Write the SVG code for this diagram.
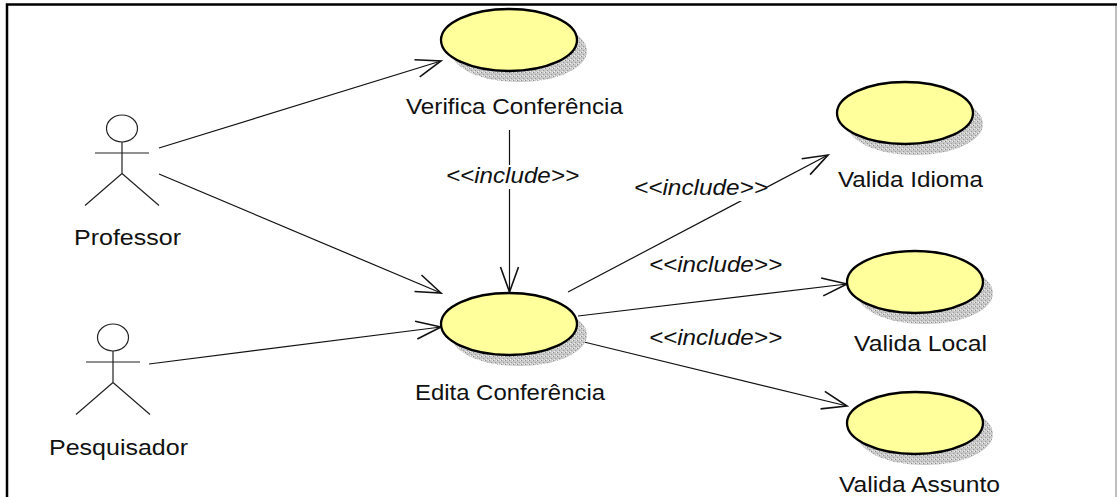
<svg xmlns="http://www.w3.org/2000/svg" width="1117" height="497" viewBox="0 0 1117 497">
<style>
text{font-family:"Liberation Sans",Arial,sans-serif;font-size:22px;fill:#111;text-anchor:middle}
.i{font-style:italic}
.u{fill:#ffff9c;stroke:#000;stroke-width:2.300}
.s{fill:url(#st)}
.a{fill:none;stroke:#111;stroke-width:1.200}
.c{fill:none;stroke:#222;stroke-width:1.200}
</style>
<defs>
<pattern id="st" width="4" height="4" patternUnits="userSpaceOnUse">
<rect width="4" height="4" fill="#c8c8c8"/>
<rect x="0" y="0" width="1" height="1" fill="#8c8c8c"/>
<rect x="2" y="2" width="1" height="1" fill="#9a9a9a"/>
<rect x="3" y="0" width="1" height="1" fill="#eee"/>
<rect x="1" y="3" width="1" height="1" fill="#eee"/>
</pattern>
<marker id="ar" markerWidth="32" markerHeight="28" refX="30" refY="14" orient="auto" markerUnits="userSpaceOnUse">
<path d="M5 5L30 14L5 23" fill="none" stroke="#111" stroke-width="1.600"/>
</marker>
<g id="uc"><ellipse class="s" cx="10" cy="11" rx="68" ry="31"/><ellipse class="u" rx="68" ry="31"/></g>
<g id="ac"><ellipse cy="-28.500" rx="15.500" ry="13.500" class="c"/><path class="c" d="M0 -15V16.500M-27 -4H27M0 16.500L-37 48.500M0 16.500L37 48.500"/></g>
</defs>
<rect id="frame" x="7" y="4.500" width="1130" height="520" fill="none" stroke="#000" stroke-width="2.500"/>
<path d="M1116 6V497" stroke="#aaa" stroke-width="1.500"/>
<g id="connectors">
<path class="a" d="M159 148L441 61" marker-end="url(#ar)"/>
<path class="a" d="M159 174L441 293" marker-end="url(#ar)"/>
<path class="a" d="M149 364L441 327" marker-end="url(#ar)"/>
<path class="a" d="M509.500 130V292" marker-end="url(#ar)"/>
<path class="a" d="M568 292L828 155" marker-end="url(#ar)"/>
<path class="a" d="M578 316L847 284" marker-end="url(#ar)"/>
<path class="a" d="M584 342L847 406" marker-end="url(#ar)"/>
</g>
<rect x="440" y="165" width="145" height="24" fill="#fff"/>
<rect x="630" y="175" width="137" height="26" fill="#fff"/>
<text class="i" x="512.500" y="183" textLength="133" lengthAdjust="spacingAndGlyphs">&lt;&lt;include&gt;&gt;</text>
<text class="i" x="701" y="195" textLength="134" lengthAdjust="spacingAndGlyphs">&lt;&lt;include&gt;&gt;</text>
<text class="i" x="715.500" y="272" textLength="133" lengthAdjust="spacingAndGlyphs">&lt;&lt;include&gt;&gt;</text>
<text class="i" x="715.500" y="345" textLength="133" lengthAdjust="spacingAndGlyphs">&lt;&lt;include&gt;&gt;</text>
<g id="professor"><use href="#ac" x="122" y="157"/><text x="127.500" y="245" textLength="107" lengthAdjust="spacingAndGlyphs">Professor</text></g>
<g id="pesquisador"><use href="#ac" x="113" y="366"/><text x="118.500" y="455" textLength="139" lengthAdjust="spacingAndGlyphs">Pesquisador</text></g>
<g id="verifica"><use href="#uc" x="509" y="40"/><text x="514.500" y="114" textLength="217" lengthAdjust="spacingAndGlyphs">Verifica Conferência</text></g>
<g id="edita"><use href="#uc" x="509" y="324"/><text x="510" y="400" textLength="190" lengthAdjust="spacingAndGlyphs">Edita Conferência</text></g>
<g id="idioma"><use href="#uc" x="905" y="113"/><text x="910.500" y="187" textLength="145" lengthAdjust="spacingAndGlyphs">Valida Idioma</text></g>
<g id="local"><use href="#uc" x="915" y="282"/><text x="920.500" y="351" textLength="133" lengthAdjust="spacingAndGlyphs">Valida Local</text></g>
<g id="assunto"><use href="#uc" x="915" y="423"/><text x="919.500" y="491.500" textLength="161" lengthAdjust="spacingAndGlyphs">Valida Assunto</text></g>
</svg>
